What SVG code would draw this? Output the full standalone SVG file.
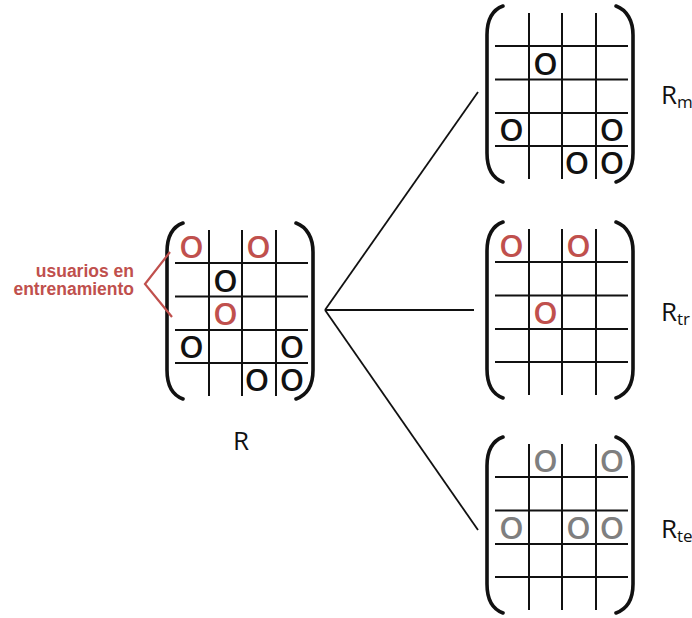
<svg xmlns="http://www.w3.org/2000/svg" xmlns:xlink="http://www.w3.org/1999/xlink" width="692" height="618" viewBox="0 0 692 618">
  <style>
    .grid line { stroke: #111; stroke-width: 2; }
    .brk { fill: none; stroke: #111; stroke-width: 3.6; stroke-linecap: round; }
    .o { font-family: "Open Sans", "Liberation Sans", sans-serif; font-size: 31px; font-weight: 600; text-anchor: middle; }
    .k { fill: #111; }
    .r { fill: #c0504d; }
    .g { fill: #7f7f7f; }
    .lbl { font-family: "Open Sans", "Liberation Sans", sans-serif; font-size: 26px; fill: #111; }
    .sub { font-size: 17px; }
    .note { font-family: "Liberation Sans", Arial, sans-serif; font-size: 17.5px; font-weight: bold; fill: #c0504d; text-anchor: end; }
    .conn { stroke: #111; stroke-width: 1.8; fill: none; }
  </style>
  <defs>
    <!-- 4x5 matrix frame: grid lines plus round brackets, origin at grid top-left -->
    <g id="matrix">
      <g class="grid">
        <line x1="0" y1="33" x2="133" y2="33"/>
        <line x1="0" y1="66.5" x2="133" y2="66.5"/>
        <line x1="0" y1="100" x2="133" y2="100"/>
        <line x1="0" y1="133" x2="133" y2="133"/>
        <line x1="34" y1="0" x2="34" y2="166"/>
        <line x1="67" y1="0" x2="67" y2="166"/>
        <line x1="101" y1="0" x2="101" y2="166"/>
      </g>
      <path class="brk" d="M8,-7 C-3,-3 -8,8 -8,22 L-8,140 C-8,155 -3,165 8,169"/>
      <path class="brk" d="M121,-7 C132,-3 138,8 138,22 L138,140 C138,155 132,165 121,169"/>
    </g>
  </defs>

  <!-- connectors from R to the three sub-matrices -->
  <g id="connectors">
    <line class="conn" x1="325" y1="310" x2="478" y2="92"/>
    <line class="conn" x1="325" y1="310" x2="474" y2="310"/>
    <line class="conn" x1="325" y1="310" x2="478" y2="530"/>
  </g>

  <!-- full rating matrix R -->
  <g id="R" transform="translate(175,230)">
    <use xlink:href="#matrix"/>
    <text class="o r" x="16.5" y="28">O</text>
    <text class="o r" x="83.5" y="28">O</text>
    <text class="o k" x="50.5" y="61.5">O</text>
    <text class="o r" x="50.5" y="95">O</text>
    <text class="o k" x="16.5" y="128">O</text>
    <text class="o k" x="117" y="128">O</text>
    <text class="o k" x="82" y="161">O</text>
    <text class="o k" x="117" y="161">O</text>
  </g>
  <text id="R-label" class="lbl" x="233" y="450">R</text>

  <!-- training-users annotation -->
  <g id="note">
    <text class="note" x="134" y="277">usuarios en</text>
    <text class="note" x="134" y="295">entrenamiento</text>
    <polyline points="170,252 145,284 172,317" fill="none" stroke="#c0504d" stroke-width="2.2"/>
  </g>

  <!-- R_m -->
  <g id="Rm" transform="translate(495,13)">
    <use xlink:href="#matrix"/>
    <text class="o k" x="50.5" y="61.5">O</text>
    <text class="o k" x="16.5" y="128">O</text>
    <text class="o k" x="117" y="128">O</text>
    <text class="o k" x="82" y="161">O</text>
    <text class="o k" x="117" y="161">O</text>
  </g>
  <text class="lbl" x="661" y="104">R<tspan class="sub" dy="4">m</tspan></text>

  <!-- R_tr -->
  <g id="Rtr" transform="translate(495,229)">
    <use xlink:href="#matrix"/>
    <text class="o r" x="16.5" y="28">O</text>
    <text class="o r" x="83.5" y="28">O</text>
    <text class="o r" x="50.5" y="95">O</text>
  </g>
  <text class="lbl" x="661" y="321">R<tspan class="sub" dy="4">tr</tspan></text>

  <!-- R_te -->
  <g id="Rte" transform="translate(495,444)">
    <use xlink:href="#matrix"/>
    <text class="o g" x="50.5" y="28">O</text>
    <text class="o g" x="117" y="28">O</text>
    <text class="o g" x="16.5" y="95">O</text>
    <text class="o g" x="83.5" y="95">O</text>
    <text class="o g" x="117" y="95">O</text>
  </g>
  <text class="lbl" x="661" y="538">R<tspan class="sub" dy="4">te</tspan></text>
</svg>
